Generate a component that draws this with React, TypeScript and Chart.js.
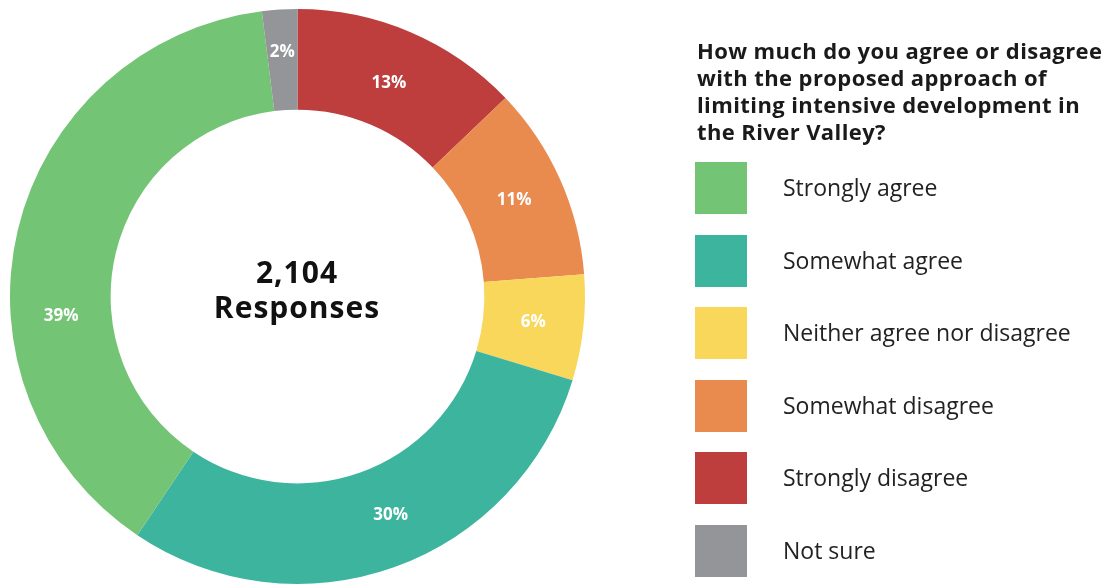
import React, { useEffect, useRef } from "react";
import { Chart, registerables } from "chart.js";

Chart.register(...registerables);

// Slices in drawing order, clockwise from 12 o'clock
const sliceLabels = ["Strongly disagree", "Somewhat disagree", "Neither agree nor disagree", "Somewhat agree", "Strongly agree", "Not sure"];
const sliceValues = [13, 11, 6, 30, 39, 2];
const sliceColors = ["#BE3E3E", "#E98A4E", "#F8D75A", "#3DB59E", "#74C476", "#939598"];

// Legend order
const legendLabels = ["Strongly agree", "Somewhat agree", "Neither agree nor disagree", "Somewhat disagree", "Strongly disagree", "Not sure"];

const titleLines = ["How much do you agree or disagree", "with the proposed approach of", "limiting intensive development in", "the River Valley?"];
const centerLines = ["2,104", "Responses"];

const FONT = '"Open Sans", "Noto Sans", sans-serif';

// small manual nudges of the percentage labels (angle in degrees, radius in px)
const LABEL_NUDGE: Record<number, { da?: number; dr?: number }> = {
  0: { dr: -5 },
  3: { da: -3.5 },
  4: { da: -18 },
  5: { dr: 8 },
};

const labelPlugin = {
  id: "sliceLabels",
  afterDatasetsDraw(chart: any) {
    const ctx = chart.ctx;
    const meta = chart.getDatasetMeta(0);
    ctx.save();
    ctx.fillStyle = "#ffffff";
    ctx.font = `bold 17px ${FONT}`;
    ctx.textAlign = "center";
    ctx.textBaseline = "middle";
    meta.data.forEach((arc: any, i: number) => {
      const { x, y, startAngle, endAngle, innerRadius, outerRadius } = arc.getProps(
        ["x", "y", "startAngle", "endAngle", "innerRadius", "outerRadius"],
        true
      );
      const n = LABEL_NUDGE[i] || {};
      const a = (startAngle + endAngle) / 2 + ((n.da || 0) * Math.PI) / 180;
      const r = (innerRadius + outerRadius) / 2 + (n.dr || 0);
      ctx.fillText(sliceValues[i] + "%", x + Math.cos(a) * r, y + Math.sin(a) * r);
    });
    ctx.restore();
  },
};

export default function App() {
  const ref = useRef<HTMLCanvasElement>(null);

  useEffect(() => {
    if (!ref.current) return;
    const chart = new Chart(ref.current, {
      type: "doughnut",
      data: {
        labels: sliceLabels,
        datasets: [
          {
            data: sliceValues,
            backgroundColor: sliceColors,
            borderWidth: 0,
          },
        ],
      },
      options: {
        responsive: false,
        animation: false,
        cutout: "65%",
        layout: { padding: { left: 10, top: 9, right: 523, bottom: 4 } },
        plugins: {
          legend: { display: false },
          tooltip: { enabled: false },
        },
      },
      plugins: [labelPlugin],
    });
    return () => chart.destroy();
  }, []);

  const boxTops = [162, 234.5, 307, 379.5, 452, 525];

  return (
    <div style={{ position: "absolute", left: 0, top: 0, width: 1108, height: 588, background: "#fff", fontFamily: FONT }}>
      <canvas ref={ref} width={1108} height={588} style={{ position: "absolute", left: 0, top: 0 }} />
      <div
        style={{
          position: "absolute",
          left: 197,
          width: 200,
          top: 254,
          textAlign: "center",
          fontWeight: 700,
          fontSize: 30,
          lineHeight: "35px",
          letterSpacing: "1px",
          color: "#111",
        }}
      >
        {centerLines.map((l) => (
          <div key={l}>{l}</div>
        ))}
      </div>
      <div
        style={{
          position: "absolute",
          left: 697,
          top: 36.5,
          fontWeight: 700,
          fontSize: 22,
          lineHeight: "27px",
          letterSpacing: "0.4px",
          color: "#1a1a1a",
          whiteSpace: "nowrap",
        }}
      >
        {titleLines.map((l) => (
          <div key={l}>{l}</div>
        ))}
      </div>
      {legendLabels.map((lab, i) => {
        const c = sliceColors[sliceLabels.indexOf(lab)];
        return (
          <div key={lab}>
            <div style={{ position: "absolute", left: 695, top: boxTops[i], width: 52, height: 52, background: c }} />
            <div
              style={{
                position: "absolute",
                left: 783,
                top: boxTops[i] - 1,
                height: 52,
                lineHeight: "52px",
                fontSize: 23,
                color: "#222",
                whiteSpace: "nowrap",
              }}
            >
              {lab}
            </div>
          </div>
        );
      })}
    </div>
  );
}
